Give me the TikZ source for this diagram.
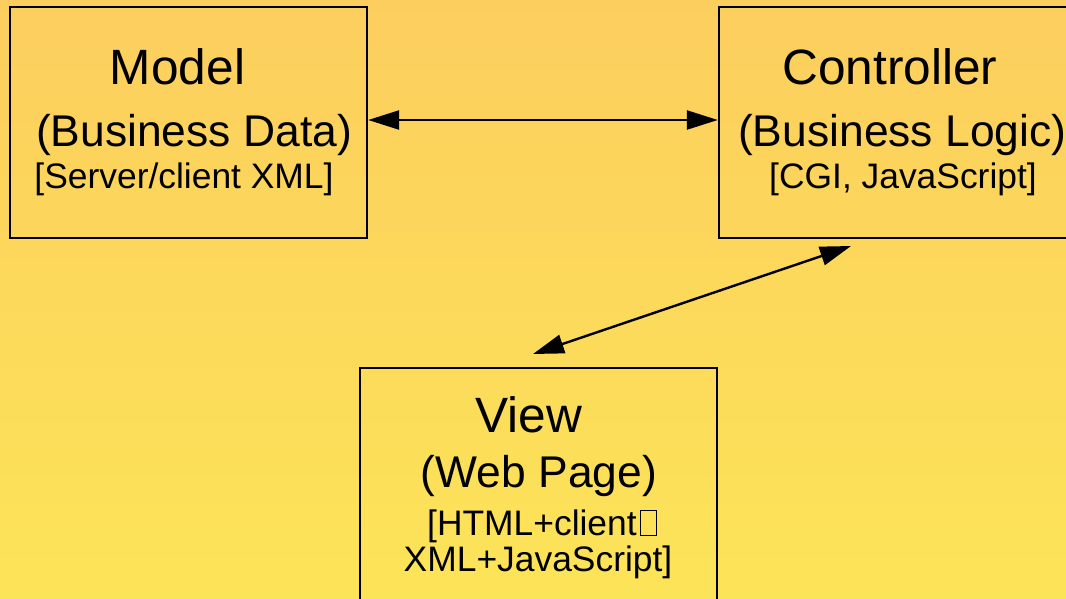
\documentclass[tikz,border=0pt]{standalone}
\usepackage{fontspec}
\setmainfont{Liberation Sans}
\usetikzlibrary{arrows.meta}
\definecolor{bgtop}{RGB}{252,206,94}
\definecolor{bgbot}{RGB}{252,228,88}
\newcommand\missingglyph{\kern3pt{\setlength\fboxsep{0pt}\setlength\fboxrule{0.9pt}\fbox{\rule{0pt}{24pt}\rule{15pt}{0pt}}}}
\tikzset{
  panel/.style={draw=black, line width=2.4pt, minimum width=357pt, minimum height=231pt, inner sep=0pt},
  title/.style={anchor=base, inner sep=0pt, font=\fontsize{49.6}{56}\selectfont},
  sub/.style={anchor=base, inner sep=0pt, font=\fontsize{44.4}{50}\selectfont},
  note/.style={anchor=base, inner sep=0pt, font=\fontsize{35.4}{40}\selectfont},
  link/.style={line width=2.4pt, {Triangle[length=31pt,width=19pt]}-{Triangle[length=31pt,width=19pt]}}
}
\begin{document}
\begin{tikzpicture}[x=1pt,y=-1pt]
  % backdrop
  \shade[top color=bgtop, bottom color=bgbot] (0,0) rectangle (1066,598);
  \useasboundingbox (0,0) rectangle (1066,598);

  % boxes
  \node[panel] (model) at (188.5,122.5) {};
  \node[panel] (ctrl) at (897.5,122.5) {};
  \node[panel, minimum height=240pt] (view) at (538.5,488) {};

  % model text
  \node[title] (mt) at (177.5,84) {Model};
  \node[sub] (ms) at (194,146) {(Business Data)};
  \node[note] (mn) at (184,188) {[Server/client XML]};

  % controller text
  \node[title] (ct) at (890,84) {Controller};
  \node[sub, anchor=base west] (cs) at (738,146) {(Business Logic)};
  \node[note] (cn) at (903,188) {[CGI, JavaScript]};

  % view text
  \node[title] (vt) at (529,432) {View};
  \node[sub] (vs) at (539,487) {(Web Page)};
  \node[note, anchor=base west] (vn1) at (427,535) {[HTML+client\missingglyph};
  \node[note] (vn2) at (538,571) {XML+JavaScript]};

  % connectors
  \coordinate (c1) at (851,246);
  \coordinate (v1) at (533,354);
  \draw[link] (model.east |- 0,120) -- (ctrl.west |- 0,120);
  \draw[link] (v1) -- (c1);
\end{tikzpicture}
\end{document}
